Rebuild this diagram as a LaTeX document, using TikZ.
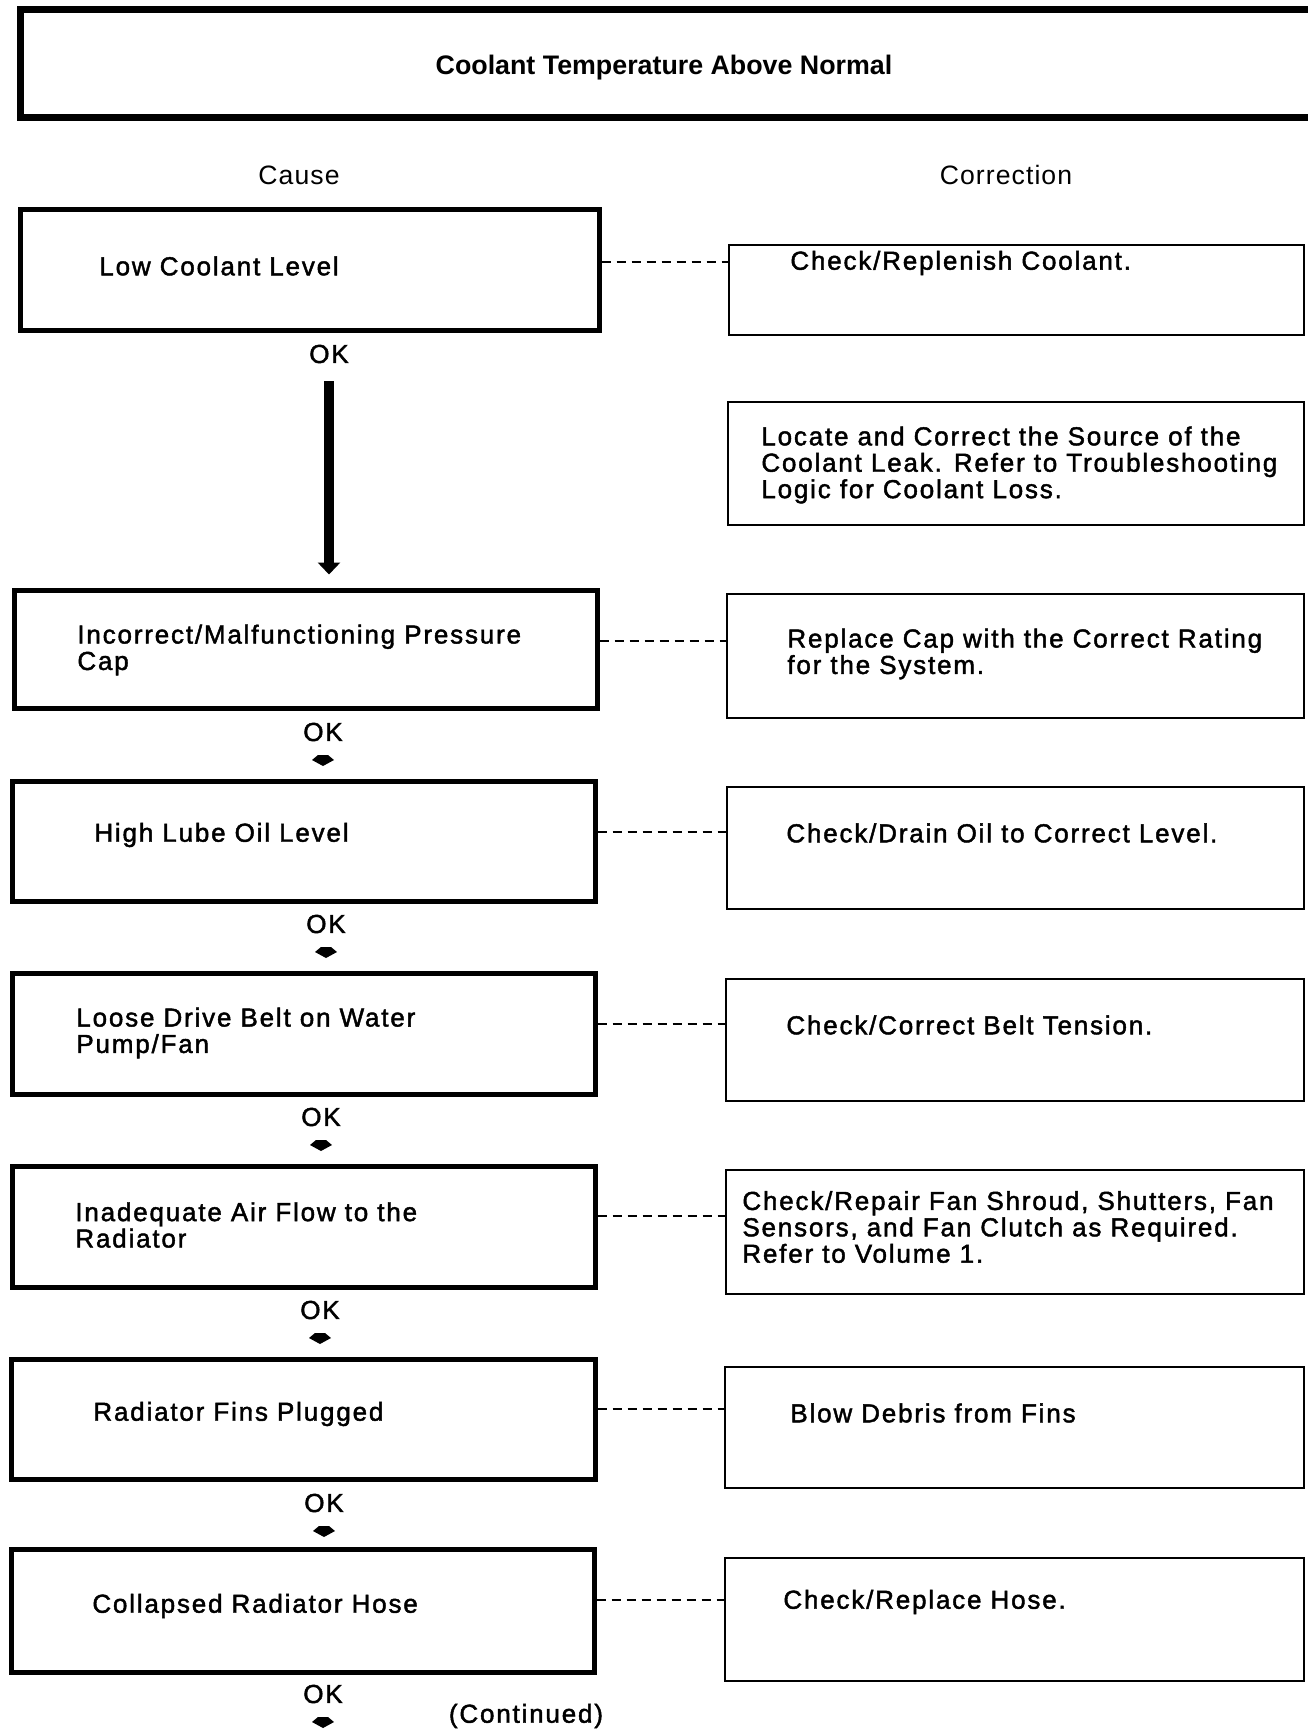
\documentclass[tikz,border=0pt]{standalone}
\usepackage{fontspec}
\setmainfont{Liberation Sans}
\newfontfamily\boxfont[LetterSpace=7,FakeBold=1.7]{Liberation Sans}
\newfontfamily\headfont[LetterSpace=4]{Liberation Sans}
\usetikzlibrary{fit,calc,arrows.meta}
% small solid pointer under each "OK"
\newcommand\okmark[1]{\fill ($(#1)+(-5,23)$) -- ++(10,0) -- ++(6,5) -- ++(-11,6) -- ++(-11,-6) -- cycle;}
\begin{document}
\begin{tikzpicture}[x=0.5pt,y=-0.5pt,
  titlebox/.style={draw, line width=3.5pt, inner sep=0pt},
  causebox/.style={draw, line width=2.5pt, inner sep=0pt},
  corrbox/.style={draw, line width=1.2pt, inner sep=0pt},
  txt/.style={inner sep=0pt, anchor=west, align=left,
    font=\boxfont\fontsize{13}{13.2}\selectfont},
  oklabel/.style={inner sep=0pt, font=\boxfont\fontsize{13}{13.2}\selectfont},
  head/.style={inner sep=0pt, font=\headfont\fontsize{13.3}{15}\selectfont},
  dashline/.style={line width=1.2pt, dash pattern=on 4.5pt off 3pt},
  bigarrow/.style={line width=5pt, -{Triangle[width=11pt,length=6pt]}}
]
\useasboundingbox (0,0) rectangle (1307,1733);

% heading
\node[titlebox, fit={(20,10) (1330,118)}] (titlebox) {};
\node[inner sep=0pt, font=\bfseries\fontsize{13.4}{16}\selectfont] (title) at (664,68) {Coolant Temperature Above Normal};
\node[head] (cause) at (299,175) {Cause};
\node[head] (correction) at (1006,175) {Correction};

% cause column
\node[causebox, fit={(20,210) (599,331)}] (c1) {};
\node[causebox, fit={(14,590) (597,708)}] (c2) {};
\node[causebox, fit={(12,781) (595,901)}] (c3) {};
\node[causebox, fit={(12,973) (595,1094)}] (c4) {};
\node[causebox, fit={(12,1166) (595,1287)}] (c5) {};
\node[causebox, fit={(11,1359) (595,1479)}] (c6) {};
\node[causebox, fit={(11,1549) (594,1672)}] (c7) {};

\node[txt] (c1t) at (99,266) {Low Coolant Level};
\node[txt] (c2t) at (77,650) {Incorrect/Malfunctioning Pressure\\Cap};
\node[txt] (c3t) at (94,835) {High Lube Oil Level};
\node[txt] (c4t) at (76,1033) {Loose Drive Belt on Water\\Pump/Fan};
\node[txt] (c5t) at (75,1225) {Inadequate Air Flow to the\\Radiator};
\node[txt] (c6t) at (93,1414) {Radiator Fins Plugged};
\node[txt] (c7t) at (92,1606) {Collapsed Radiator Hose};

% correction column
\node[corrbox, fit={(729,245) (1304,335)}] (r1) {};
\node[corrbox, fit={(728,402) (1304,525)}] (rl) {};
\node[corrbox, fit={(727,594) (1304,718)}] (r2) {};
\node[corrbox, fit={(727,787) (1304,909)}] (r3) {};
\node[corrbox, fit={(726,979) (1304,1101)}] (r4) {};
\node[corrbox, fit={(726,1170) (1304,1294)}] (r5) {};
\node[corrbox, fit={(725,1367) (1304,1488)}] (r6) {};
\node[corrbox, fit={(725,1558) (1304,1681)}] (r7) {};

\node[txt] (r1t) at (790,263) {Check/Replenish Coolant.};
\node[txt] (rlt) at (761,465) {Locate and Correct the Source of the\\Coolant Leak. Refer to Troubleshooting\\Logic for Coolant Loss.};
\node[txt] (r2t) at (787,654) {Replace Cap with the Correct Rating\\for the System.};
\node[txt] (r3t) at (786,833) {Check/Drain Oil to Correct Level.};
\node[txt] (r4t) at (786,1025) {Check/Correct Belt Tension.};
\node[txt] (r5t) at (742,1227) {Check/Repair Fan Shroud, Shutters, Fan\\Sensors, and Fan Clutch as Required.\\Refer to Volume 1.};
\node[txt] (r6t) at (790,1413) {Blow Debris from Fins};
\node[txt] (r7t) at (783,1602) {Check/Replace Hose.};

% dashed links cause -> correction
\draw[dashline] (c1.east |- 0,262) -- (r1.west |- 0,262);
\draw[dashline] (c2.east |- 0,641) -- (r2.west |- 0,641);
\draw[dashline] (c3.east |- 0,832) -- (r3.west |- 0,832);
\draw[dashline] (c4.east |- 0,1024) -- (r4.west |- 0,1024);
\draw[dashline] (c5.east |- 0,1216) -- (r5.west |- 0,1216);
\draw[dashline] (c6.east |- 0,1409) -- (r6.west |- 0,1409);
\draw[dashline] (c7.east |- 0,1600) -- (r7.west |- 0,1600);

% OK labels and flow marks
\node[oklabel] (ok1) at (329,354) {OK};
\node[oklabel] (ok2) at (323,732) {OK};
\node[oklabel] (ok3) at (326,924) {OK};
\node[oklabel] (ok4) at (321,1117) {OK};
\node[oklabel] (ok5) at (320,1310) {OK};
\node[oklabel] (ok6) at (324,1503) {OK};
\node[oklabel] (ok7) at (323,1694) {OK};
\node[oklabel] (cont) at (526,1716) {(Continued)};

\draw[bigarrow] ($(ok1)+(0,27)$) -- ($(ok1 |- c2.north)+(0,-13)$);
\okmark{ok2}
\okmark{ok3}
\okmark{ok4}
\okmark{ok5}
\okmark{ok6}
\okmark{ok7}
\end{tikzpicture}
\end{document}
